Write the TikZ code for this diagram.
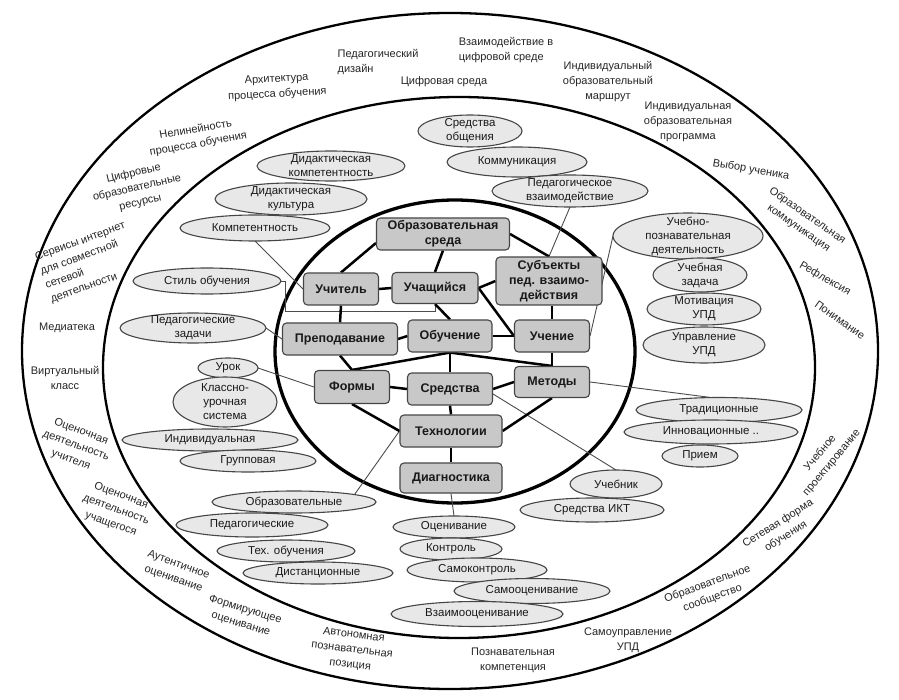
\documentclass[tikz,border=0pt]{standalone}
\usepackage{fontspec}
\setmainfont{Liberation Sans}
\usetikzlibrary{shapes.geometric,calc}
\definecolor{boxfill}{RGB}{200,200,200}
\definecolor{ellfill}{RGB}{232,232,232}
\definecolor{edgecol}{RGB}{70,70,70}
\pgfdeclarelayer{bg}
\pgfsetlayers{bg,main}
\begin{document}
\begin{tikzpicture}[x=1pt,y=-1pt,
  ring/.style={draw=black,line width=2.3pt},
  box/.style={draw=edgecol,fill=boxfill,rounded corners=4pt,line width=1.1pt,font=\fontsize{12.5}{15}\selectfont\bfseries,align=center,inner sep=1pt,text=black!90},
  ell/.style={draw=edgecol,fill=ellfill,shape=ellipse,line width=1.1pt,inner sep=0pt,outer sep=0pt},
  etxt/.style={font=\fontsize{11.5}{14}\selectfont,align=center,inner sep=0pt,text=black!90},
  rtxt/.style={font=\fontsize{11}{15}\selectfont,align=center,inner sep=0pt,text=black!85},
  conn/.style={draw=black,line width=2.5pt},
  thinline/.style={draw=black!70,line width=0.9pt},
]
\useasboundingbox (0,0) rectangle (899,700);

% ---------- ring texts ----------
\node[rtxt,align=left] (r1) at (378,62) {Педагогический\\дизайн};
\node[rtxt,align=left] (r2) at (506,50) {Взаимодействие в\\цифровой среде};
\node[rtxt] (r3) at (444,82) {Цифровая среда};
\node[rtxt,rotate=3] (r4) at (277,87) {Архитектура\\процесса обучения};
\node[rtxt,rotate=10] (r5) at (197,137) {Нелинейность\\процесса обучения};
\node[rtxt,rotate=13] (r6) at (137,188) {Цифровые\\образовательные\\ресурсы};
\node[rtxt,align=left,rotate=20] (r7) at (88,263) {Сервисы интернет\\для совместной\\сетевой\\деятельности};
\node[rtxt] (r8) at (67,328) {Медиатека};
\node[rtxt] (r9) at (65,378) {Виртуальный\\класс};
\node[rtxt,rotate=-20] (r10) at (76,446) {Оценочная\\деятельность\\учителя};
\node[rtxt,rotate=-20] (r11) at (116,510) {Оценочная\\деятельность\\учащегося};
\node[rtxt,rotate=-20] (r12) at (176,572) {Аутентичное\\оценивание};
\node[rtxt,rotate=-17] (r13) at (243,617) {Формирующее\\оценивание};
\node[rtxt,rotate=-7] (r14) at (352,650) {Автономная\\познавательная\\позиция};
\node[rtxt] (r15) at (513,660) {Познавательная\\компетенция};
\node[rtxt] (r16) at (628,640) {Самоуправление\\УПД};
\node[rtxt,rotate=20] (r17) at (710,591) {Образовательное\\сообщество};
\node[rtxt,rotate=32] (r18) at (782,530) {Сетевая форма\\обучения};
\node[rtxt,rotate=50] (r19) at (826,458) {Учебное\\проектирование};
\node[rtxt,rotate=-35] (r20) at (840,320) {Понимание};
\node[rtxt,rotate=-30] (r21) at (825,279) {Рефлексия};
\node[rtxt,rotate=-35] (r22) at (803,222) {Образовательная\\коммуникация};
\node[rtxt,rotate=-10] (r23) at (751,170) {Выбор ученика};
\node[rtxt] (r24) at (688,122) {Индивидуальная\\образовательная\\программа};
\node[rtxt] (r25) at (608,82) {Индивидуальный\\образовательный\\маршрут};

% ---------- ellipses ----------
\node[ell,minimum width=104pt,minimum height=32pt,label={[etxt]center:{Средства\\общения}}] (so) at (470,131) {};
\node[ell,minimum width=140pt,minimum height=30pt,label={[etxt]center:{Коммуникация}}] (komm) at (517,162) {};
\node[ell,minimum width=156pt,minimum height=32pt,label={[etxt]center:{Педагогическое\\взаимодействие}}] (pedvz) at (570,191) {};
\node[ell,minimum width=148pt,minimum height=30pt,label={[etxt]center:{Дидактическая\\компетентность}}] (dk) at (331,166) {};
\node[ell,minimum width=152pt,minimum height=32pt,label={[etxt]center:{Дидактическая\\культура}}] (dc) at (291,199) {};
\node[ell,minimum width=150pt,minimum height=26pt,label={[etxt]center:{Компетентность}}] (komp) at (255,228) {};
\node[ell,minimum width=148pt,minimum height=26pt,label={[etxt]center:{Стиль обучения}}] (stil) at (207,281) {};
\node[ell,minimum width=146pt,minimum height=30pt,label={[etxt]center:{Педагогические\\задачи}}] (pedz) at (193,328) {};
\node[ell,minimum width=60pt,minimum height=20pt,label={[etxt]center:{Урок}}] (urok) at (228,368) {};
\node[ell,minimum width=104pt,minimum height=50pt,label={[etxt]center:{Классно-\\урочная\\система}}] (kus) at (225,402) {};
\node[ell,minimum width=176pt,minimum height=22pt,label={[etxt]center:{Индивидуальная}}] (indiv) at (210,440) {};
\node[ell,minimum width=136pt,minimum height=22pt,label={[etxt]center:{Групповая}}] (grup) at (248,461) {};
\node[ell,minimum width=150pt,minimum height=46pt,label={[etxt]center:{Учебно-\\познавательная\\деятельность}}] (upd) at (688,236) {};
\node[ell,minimum width=94pt,minimum height=34pt,label={[etxt]center:{Учебная\\задача}}] (uz) at (700,275) {};
\node[ell,minimum width=114pt,minimum height=32pt,label={[etxt]center:{Мотивация\\УПД}}] (mot) at (704,309) {};
\node[ell,minimum width=122pt,minimum height=36pt,label={[etxt]center:{Управление\\УПД}}] (upr) at (704,345) {};
\node[ell,minimum width=166pt,minimum height=25pt,label={[etxt]center:{Традиционные}}] (trad) at (719,410) {};
\node[ell,minimum width=174pt,minimum height=24pt,label={[etxt]center:{Инновационные ..}}] (innov) at (711,432) {};
\node[ell,minimum width=76pt,minimum height=22pt,label={[etxt]center:{Прием}}] (priem) at (700,456) {};
\node[ell,minimum width=92pt,minimum height=28pt,label={[etxt]center:{Учебник}}] (uchebnik) at (616,484) {};
\node[ell,minimum width=144pt,minimum height=24pt,label={[etxt]center:{Средства ИКТ}}] (ikt) at (592,510) {};
\node[ell,minimum width=164pt,minimum height=22pt,label={[etxt]center:{Образовательные}}] (obrazov) at (294,502) {};
\node[ell,minimum width=152pt,minimum height=24pt,label={[etxt]center:{Педагогические}}] (pedag) at (252,525) {};
\node[ell,minimum width=138pt,minimum height=22pt,label={[etxt]center:{Тех. обучения}}] (tehob) at (286,551) {};
\node[ell,minimum width=150pt,minimum height=22pt,label={[etxt]center:{Дистанционные}}] (dist) at (318,573) {};
\node[ell,minimum width=122pt,minimum height=22pt,label={[etxt]center:{Оценивание}}] (ocen) at (454,527) {};
\node[ell,minimum width=102pt,minimum height=22pt,label={[etxt]center:{Контроль}}] (kontr) at (451,549) {};
\node[ell,minimum width=140pt,minimum height=24pt,label={[etxt]center:{Самоконтроль}}] (samok) at (477,570) {};
\node[ell,minimum width=156pt,minimum height=25pt,label={[etxt]center:{Самооценивание}}] (samoo) at (532,591) {};
\node[ell,minimum width=172pt,minimum height=25pt,label={[etxt]center:{Взаимооценивание}}] (vzaim) at (477,614) {};

% ---------- central boxes ----------
\node[box,minimum width=133pt,minimum height=32pt] (os) at (443,234) {Образовательная\\среда};
\node[box,minimum width=75pt,minimum height=32pt] (uchit) at (341,289) {Учитель};
\node[box,minimum width=86pt,minimum height=31pt] (uchash) at (435,288) {Учащийся};
\node[box,minimum width=106pt,minimum height=48pt] (subj) at (549,281) {Субъекты\\пед. взаимо-\\действия};
\node[box,minimum width=115pt,minimum height=32pt] (prepod) at (340,339) {Преподавание};
\node[box,minimum width=84pt,minimum height=32pt] (obuch) at (450,336) {Обучение};
\node[box,minimum width=75pt,minimum height=32pt] (uchen) at (552,336) {Учение};
\node[box,minimum width=75pt,minimum height=33pt] (formy) at (352,387) {Формы};
\node[box,minimum width=85pt,minimum height=32pt] (sredstva) at (450,389) {Средства};
\node[box,minimum width=75pt,minimum height=31pt] (metody) at (552,382) {Методы};
\node[box,minimum width=102pt,minimum height=32pt] (tech) at (451,431) {Технологии};
\node[box,minimum width=102pt,minimum height=30pt] (diag) at (451,478) {Диагностика};

% ---------- background: rings and connectors ----------
\begin{pgfonlayer}{bg}
\fill[white] (0,0) rectangle (899,700);
\draw[ring] (450,351) ellipse [x radius=428pt, y radius=338pt];
\draw[ring] (459,367.5) ellipse [x radius=356pt, y radius=270.5pt];
\draw[draw=black,line width=3.3pt] (455,351.5) ellipse [x radius=180pt, y radius=151.5pt];

% thin connectors
\draw[thinline] (komp.south) -- (uchit.west);
\draw[thinline] (stil.east) -- ++(4,0) |- ($(uchash.south)+(0,7)$) -- (uchash.south);
\draw[thinline] (pedz.east) -- (prepod.west);
\draw[thinline] (urok.east) -- (formy.west);
\draw[thinline] (pedvz.south) -- (subj.north);
\draw[thinline] (upd.west) -- (uchen.east);
\draw[thinline] (metody.east) -- ($(trad.north)+(-8,0)$);
\draw[thinline] ($(sredstva.east)+(0,5)$) -- (uchebnik.north);
\draw[thinline] (tech.west) -- (obrazov.7);
\draw[thinline] (diag.south) -- (ocen.north);

% thick connectors
\draw[conn] ($(os.west)+(0,9)$) -- (uchit.north);
\draw[conn] (os.south) -- (uchash.north);
\draw[conn] (os.east) -- (subj.north);
\draw[conn] (uchit.east) -- (uchash.west);
\draw[conn] (uchash.east) -- (subj.west);
\draw[conn] (uchit.south) -- (prepod.north);
\draw[conn] (uchash.south) -- (obuch.north);
\draw[conn] (uchash.east) -- (uchen.west);
\draw[conn] (uchen.north |- subj.south) -- (uchen.north);
\draw[conn] (prepod.east) -- (obuch.west);
\draw[conn] (obuch.east) -- (uchen.west);
\draw[conn] (prepod.south) -- (formy.north);
\draw[conn] (formy.north) -- (obuch.south) -- (metody.north);
\draw[conn] (uchen.south) -- (metody.north);
\draw[conn] (obuch.south) -- (sredstva.north);
\draw[conn] (formy.east) -- (sredstva.west);
\draw[conn] (sredstva.east) -- (metody.west);
\draw[conn] (sredstva.south) -- (tech.north);
\draw[conn] (formy.south) -- (tech.west);
\draw[conn] (metody.south) -- (tech.east);
\draw[conn] (tech.south) -- (diag.north);
\end{pgfonlayer}
\end{tikzpicture}
\end{document}
